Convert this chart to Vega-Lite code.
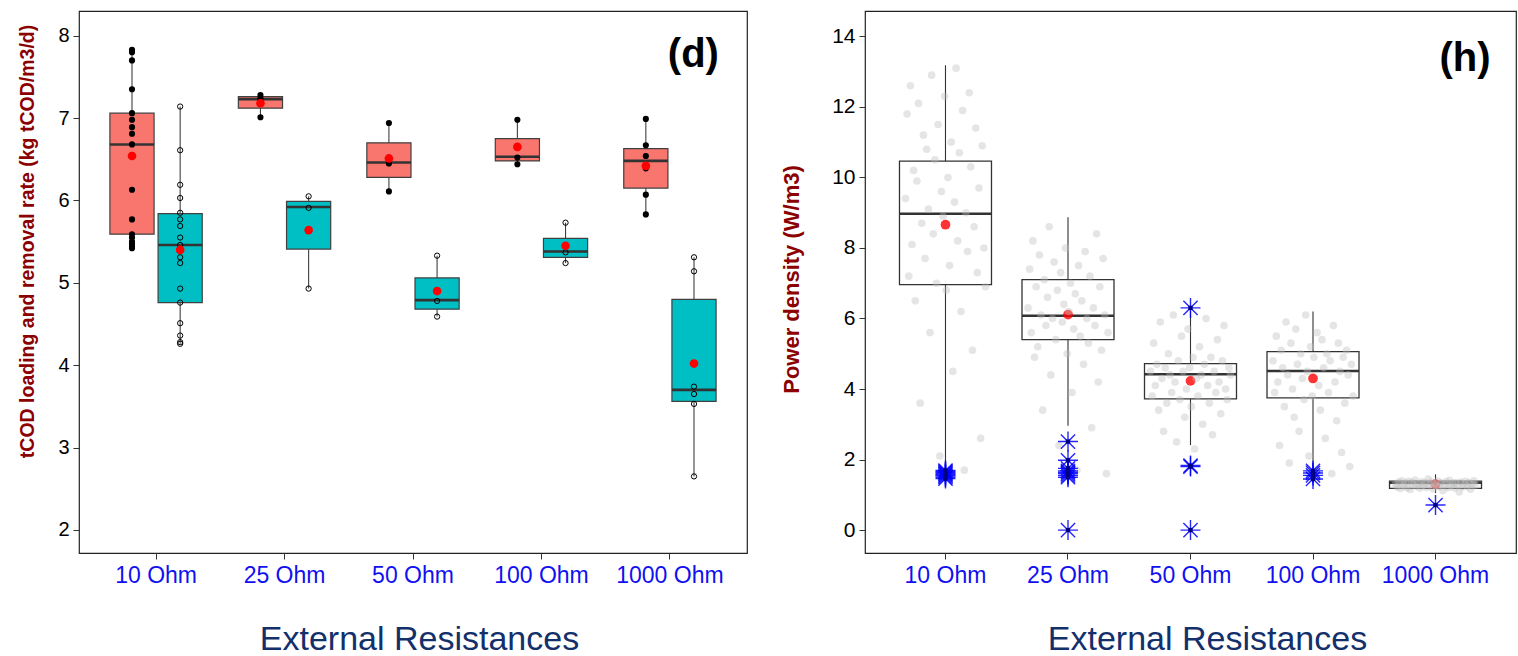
{
"$schema": "https://vega.github.io/schema/vega-lite/v6.json",
"background": "white",
"padding": {"left": 16, "top": 10, "right": 2, "bottom": 0},
"spacing": 31,
"config": {"font": "Liberation Sans", "view": {"stroke": "#222222", "strokeWidth": 1.2},
"axisY": {"grid": false, "domain": false, "format": "d", "labelColor": "black", "labelPadding": 4, "tickSize": 6, "tickColor": "#333333", "titleFontWeight": "bold", "titleColor": "#8B0000", "titleBaseline": "middle", "titleAlign": "center", "titleAngle": -90},
"axisX": {"labelAngle": 0, "labelColor": "#1010F0", "labelFontSize": 23, "labelPadding": 5, "tickSize": 6, "tickColor": "#333333", "domain": false, "grid": false, "titleFontSize": 34, "titleFontWeight": "normal", "titleColor": "#13306B", "titleY": 96, "titleBaseline": "alphabetic", "titleAlign": "center"}},
"datasets": {
"statsD": [
{"res":"10 Ohm","grp":"loading","lo":5.42,"q1":5.59,"med":6.68,"q3":7.06,"hi":7.83,"mean":6.54},
{"res":"10 Ohm","grp":"removal","lo":4.26,"q1":4.76,"med":5.46,"q3":5.84,"hi":7.14,"mean":5.40},
{"res":"25 Ohm","grp":"loading","lo":7.01,"q1":7.12,"med":7.23,"q3":7.26,"hi":7.28,"mean":7.18},
{"res":"25 Ohm","grp":"removal","lo":4.93,"q1":5.41,"med":5.92,"q3":5.99,"hi":6.05,"mean":5.64},
{"res":"50 Ohm","grp":"loading","lo":6.11,"q1":6.28,"med":6.46,"q3":6.70,"hi":6.94,"mean":6.51},
{"res":"50 Ohm","grp":"removal","lo":4.59,"q1":4.68,"med":4.79,"q3":5.06,"hi":5.33,"mean":4.90},
{"res":"100 Ohm","grp":"loading","lo":6.44,"q1":6.48,"med":6.53,"q3":6.75,"hi":6.98,"mean":6.65},
{"res":"100 Ohm","grp":"removal","lo":5.24,"q1":5.31,"med":5.38,"q3":5.54,"hi":5.73,"mean":5.45},
{"res":"1000 Ohm","grp":"loading","lo":5.83,"q1":6.15,"med":6.48,"q3":6.63,"hi":6.99,"mean":6.42},
{"res":"1000 Ohm","grp":"removal","lo":2.65,"q1":3.56,"med":3.70,"q3":4.80,"hi":5.31,"mean":4.02}
],
"ptsD": [
{"res":"10 Ohm","grp":"loading","v":7.83},{"res":"10 Ohm","grp":"loading","v":7.80},{"res":"10 Ohm","grp":"loading","v":7.70},{"res":"10 Ohm","grp":"loading","v":7.35},{"res":"10 Ohm","grp":"loading","v":7.06},{"res":"10 Ohm","grp":"loading","v":6.98},{"res":"10 Ohm","grp":"loading","v":6.89},{"res":"10 Ohm","grp":"loading","v":6.81},{"res":"10 Ohm","grp":"loading","v":6.68},{"res":"10 Ohm","grp":"loading","v":6.55},{"res":"10 Ohm","grp":"loading","v":6.13},{"res":"10 Ohm","grp":"loading","v":5.77},{"res":"10 Ohm","grp":"loading","v":5.59},{"res":"10 Ohm","grp":"loading","v":5.55},{"res":"10 Ohm","grp":"loading","v":5.50},{"res":"10 Ohm","grp":"loading","v":5.47},{"res":"10 Ohm","grp":"loading","v":5.44},{"res":"10 Ohm","grp":"loading","v":5.42},
{"res":"10 Ohm","grp":"removal","v":7.14},{"res":"10 Ohm","grp":"removal","v":6.61},{"res":"10 Ohm","grp":"removal","v":6.19},{"res":"10 Ohm","grp":"removal","v":6.03},{"res":"10 Ohm","grp":"removal","v":5.85},{"res":"10 Ohm","grp":"removal","v":5.77},{"res":"10 Ohm","grp":"removal","v":5.69},{"res":"10 Ohm","grp":"removal","v":5.55},{"res":"10 Ohm","grp":"removal","v":5.46},{"res":"10 Ohm","grp":"removal","v":5.31},{"res":"10 Ohm","grp":"removal","v":5.24},{"res":"10 Ohm","grp":"removal","v":4.93},{"res":"10 Ohm","grp":"removal","v":4.76},{"res":"10 Ohm","grp":"removal","v":4.51},{"res":"10 Ohm","grp":"removal","v":4.36},{"res":"10 Ohm","grp":"removal","v":4.28},{"res":"10 Ohm","grp":"removal","v":4.26},
{"res":"25 Ohm","grp":"loading","v":7.28},{"res":"25 Ohm","grp":"loading","v":7.24},{"res":"25 Ohm","grp":"loading","v":7.20},{"res":"25 Ohm","grp":"loading","v":7.01},
{"res":"25 Ohm","grp":"removal","v":6.05},{"res":"25 Ohm","grp":"removal","v":5.91},{"res":"25 Ohm","grp":"removal","v":4.93},
{"res":"50 Ohm","grp":"loading","v":6.94},{"res":"50 Ohm","grp":"loading","v":6.45},{"res":"50 Ohm","grp":"loading","v":6.11},
{"res":"50 Ohm","grp":"removal","v":5.33},{"res":"50 Ohm","grp":"removal","v":4.78},{"res":"50 Ohm","grp":"removal","v":4.59},
{"res":"100 Ohm","grp":"loading","v":6.98},{"res":"100 Ohm","grp":"loading","v":6.52},{"res":"100 Ohm","grp":"loading","v":6.44},
{"res":"100 Ohm","grp":"removal","v":5.73},{"res":"100 Ohm","grp":"removal","v":5.37},{"res":"100 Ohm","grp":"removal","v":5.24},
{"res":"1000 Ohm","grp":"loading","v":6.99},{"res":"1000 Ohm","grp":"loading","v":6.67},{"res":"1000 Ohm","grp":"loading","v":6.54},{"res":"1000 Ohm","grp":"loading","v":6.39},{"res":"1000 Ohm","grp":"loading","v":6.07},{"res":"1000 Ohm","grp":"loading","v":5.83},
{"res":"1000 Ohm","grp":"removal","v":5.31},{"res":"1000 Ohm","grp":"removal","v":5.14},{"res":"1000 Ohm","grp":"removal","v":3.74},{"res":"1000 Ohm","grp":"removal","v":3.65},{"res":"1000 Ohm","grp":"removal","v":3.53},{"res":"1000 Ohm","grp":"removal","v":2.65}
],
"statsH": [
{"res":"10 Ohm","lo":1.72,"q1":6.96,"med":8.97,"q3":10.46,"hi":13.18,"mean":8.66},
{"res":"25 Ohm","lo":2.96,"q1":5.40,"med":6.08,"q3":7.10,"hi":8.87,"mean":6.11},
{"res":"50 Ohm","lo":2.41,"q1":3.72,"med":4.42,"q3":4.72,"hi":6.22,"mean":4.23},
{"res":"100 Ohm","lo":1.80,"q1":3.75,"med":4.51,"q3":5.06,"hi":6.20,"mean":4.30},
{"res":"1000 Ohm","lo":1.05,"q1":1.18,"med":1.34,"q3":1.39,"hi":1.58,"mean":1.30}
],
"outH": [
{"res":"10 Ohm","v":1.69},{"res":"10 Ohm","v":1.66},{"res":"10 Ohm","v":1.63},{"res":"10 Ohm","v":1.60},{"res":"10 Ohm","v":1.57},{"res":"10 Ohm","v":1.54},{"res":"10 Ohm","v":1.50},{"res":"10 Ohm","v":1.46},
{"res":"25 Ohm","v":2.51},{"res":"25 Ohm","v":1.98},{"res":"25 Ohm","v":1.75},{"res":"25 Ohm","v":1.68},{"res":"25 Ohm","v":1.64},{"res":"25 Ohm","v":1.60},{"res":"25 Ohm","v":1.55},{"res":"25 Ohm","v":1.50},{"res":"25 Ohm","v":0.0},
{"res":"50 Ohm","v":6.30},{"res":"50 Ohm","v":1.83},{"res":"50 Ohm","v":1.80},{"res":"50 Ohm","v":0.0},
{"res":"100 Ohm","v":1.68},{"res":"100 Ohm","v":1.62},{"res":"100 Ohm","v":1.55},{"res":"100 Ohm","v":1.45},
{"res":"1000 Ohm","v":0.71}
],
"ptsH": [
{"res":"10 Ohm","k":1,"p":9.4},{"res":"10 Ohm","k":2,"p":11.8},{"res":"10 Ohm","k":3,"p":7.2},{"res":"10 Ohm","k":4,"p":12.6},{"res":"10 Ohm","k":5,"p":8.1},{"res":"10 Ohm","k":6,"p":10.2},{"res":"10 Ohm","k":7,"p":6.5},{"res":"10 Ohm","k":8,"p":9.9},{"res":"10 Ohm","k":9,"p":12.1},{"res":"10 Ohm","k":10,"p":3.6},
{"res":"10 Ohm","k":11,"p":8.7},{"res":"10 Ohm","k":12,"p":11.2},{"res":"10 Ohm","k":13,"p":7.7},{"res":"10 Ohm","k":14,"p":10.8},{"res":"10 Ohm","k":15,"p":9.1},{"res":"10 Ohm","k":16,"p":5.6},{"res":"10 Ohm","k":17,"p":12.9},{"res":"10 Ohm","k":18,"p":8.4},{"res":"10 Ohm","k":19,"p":10.5},{"res":"10 Ohm","k":20,"p":7.0},
{"res":"10 Ohm","k":21,"p":11.5},{"res":"10 Ohm","k":22,"p":2.1},{"res":"10 Ohm","k":23,"p":9.6},{"res":"10 Ohm","k":24,"p":8.9},{"res":"10 Ohm","k":25,"p":12.3},{"res":"10 Ohm","k":26,"p":6.8},{"res":"10 Ohm","k":27,"p":10.0},{"res":"10 Ohm","k":28,"p":7.5},{"res":"10 Ohm","k":29,"p":11.0},{"res":"10 Ohm","k":30,"p":4.5},
{"res":"10 Ohm","k":31,"p":9.3},{"res":"10 Ohm","k":32,"p":13.1},{"res":"10 Ohm","k":33,"p":8.2},{"res":"10 Ohm","k":34,"p":10.7},{"res":"10 Ohm","k":35,"p":6.2},{"res":"10 Ohm","k":36,"p":11.9},{"res":"10 Ohm","k":37,"p":1.7},{"res":"10 Ohm","k":38,"p":9.0},{"res":"10 Ohm","k":39,"p":7.9},{"res":"10 Ohm","k":40,"p":12.4},
{"res":"10 Ohm","k":41,"p":10.3},{"res":"10 Ohm","k":42,"p":5.1},{"res":"10 Ohm","k":43,"p":8.6},{"res":"10 Ohm","k":44,"p":11.4},{"res":"10 Ohm","k":45,"p":7.3},{"res":"10 Ohm","k":46,"p":9.7},{"res":"10 Ohm","k":47,"p":2.6},{"res":"10 Ohm","k":48,"p":10.9},{"res":"10 Ohm","k":49,"p":8.0},{"res":"10 Ohm","k":50,"p":6.9},
{"res":"25 Ohm","k":1,"p":6.3},{"res":"25 Ohm","k":2,"p":7.4},{"res":"25 Ohm","k":3,"p":5.6},{"res":"25 Ohm","k":4,"p":8.2},{"res":"25 Ohm","k":5,"p":4.9},{"res":"25 Ohm","k":6,"p":6.9},{"res":"25 Ohm","k":7,"p":5.2},{"res":"25 Ohm","k":8,"p":7.8},{"res":"25 Ohm","k":9,"p":6.1},{"res":"25 Ohm","k":10,"p":3.4},
{"res":"25 Ohm","k":11,"p":7.1},{"res":"25 Ohm","k":12,"p":5.8},{"res":"25 Ohm","k":13,"p":6.6},{"res":"25 Ohm","k":14,"p":8.6},{"res":"25 Ohm","k":15,"p":4.4},{"res":"25 Ohm","k":16,"p":6.0},{"res":"25 Ohm","k":17,"p":7.6},{"res":"25 Ohm","k":18,"p":5.4},{"res":"25 Ohm","k":19,"p":6.8},{"res":"25 Ohm","k":20,"p":2.4},
{"res":"25 Ohm","k":21,"p":7.3},{"res":"25 Ohm","k":22,"p":5.9},{"res":"25 Ohm","k":23,"p":6.4},{"res":"25 Ohm","k":24,"p":8.0},{"res":"25 Ohm","k":25,"p":5.0},{"res":"25 Ohm","k":26,"p":6.2},{"res":"25 Ohm","k":27,"p":7.0},{"res":"25 Ohm","k":28,"p":3.9},{"res":"25 Ohm","k":29,"p":5.7},{"res":"25 Ohm","k":30,"p":6.7},
{"res":"25 Ohm","k":31,"p":1.7},{"res":"25 Ohm","k":32,"p":7.5},{"res":"25 Ohm","k":33,"p":5.5},{"res":"25 Ohm","k":34,"p":6.5},{"res":"25 Ohm","k":35,"p":4.7},{"res":"25 Ohm","k":36,"p":7.9},{"res":"25 Ohm","k":37,"p":6.0},{"res":"25 Ohm","k":38,"p":5.3},{"res":"25 Ohm","k":39,"p":7.2},{"res":"25 Ohm","k":40,"p":2.9},
{"res":"25 Ohm","k":41,"p":6.3},{"res":"25 Ohm","k":42,"p":5.8},{"res":"25 Ohm","k":43,"p":8.4},{"res":"25 Ohm","k":44,"p":4.2},{"res":"25 Ohm","k":45,"p":6.9},{"res":"25 Ohm","k":46,"p":5.1},{"res":"25 Ohm","k":47,"p":7.7},{"res":"25 Ohm","k":48,"p":6.1},{"res":"25 Ohm","k":49,"p":1.6},{"res":"25 Ohm","k":50,"p":5.6},
{"res":"50 Ohm","k":1,"p":4.5},{"res":"50 Ohm","k":2,"p":3.8},{"res":"50 Ohm","k":3,"p":5.3},{"res":"50 Ohm","k":4,"p":4.1},{"res":"50 Ohm","k":5,"p":4.7},{"res":"50 Ohm","k":6,"p":3.4},{"res":"50 Ohm","k":7,"p":5.9},{"res":"50 Ohm","k":8,"p":4.3},{"res":"50 Ohm","k":9,"p":2.8},{"res":"50 Ohm","k":10,"p":4.6},
{"res":"50 Ohm","k":11,"p":3.6},{"res":"50 Ohm","k":12,"p":5.0},{"res":"50 Ohm","k":13,"p":4.4},{"res":"50 Ohm","k":14,"p":3.9},{"res":"50 Ohm","k":15,"p":6.1},{"res":"50 Ohm","k":16,"p":4.2},{"res":"50 Ohm","k":17,"p":2.5},{"res":"50 Ohm","k":18,"p":4.8},{"res":"50 Ohm","k":19,"p":3.7},{"res":"50 Ohm","k":20,"p":5.5},
{"res":"50 Ohm","k":21,"p":4.5},{"res":"50 Ohm","k":22,"p":3.2},{"res":"50 Ohm","k":23,"p":4.0},{"res":"50 Ohm","k":24,"p":5.7},{"res":"50 Ohm","k":25,"p":4.6},{"res":"50 Ohm","k":26,"p":3.5},{"res":"50 Ohm","k":27,"p":4.9},{"res":"50 Ohm","k":28,"p":2.3},{"res":"50 Ohm","k":29,"p":4.3},{"res":"50 Ohm","k":30,"p":3.8},
{"res":"50 Ohm","k":31,"p":5.2},{"res":"50 Ohm","k":32,"p":4.4},{"res":"50 Ohm","k":33,"p":3.0},{"res":"50 Ohm","k":34,"p":4.7},{"res":"50 Ohm","k":35,"p":6.0},{"res":"50 Ohm","k":36,"p":4.1},{"res":"50 Ohm","k":37,"p":3.6},{"res":"50 Ohm","k":38,"p":4.9},{"res":"50 Ohm","k":39,"p":2.7},{"res":"50 Ohm","k":40,"p":4.5},
{"res":"50 Ohm","k":41,"p":3.9},{"res":"50 Ohm","k":42,"p":5.4},{"res":"50 Ohm","k":43,"p":4.2},{"res":"50 Ohm","k":44,"p":3.3},{"res":"50 Ohm","k":45,"p":4.8},{"res":"50 Ohm","k":46,"p":5.8},{"res":"50 Ohm","k":47,"p":4.0},{"res":"50 Ohm","k":48,"p":3.7},{"res":"50 Ohm","k":49,"p":4.6},{"res":"50 Ohm","k":50,"p":4.4},
{"res":"100 Ohm","k":1,"p":4.8},{"res":"100 Ohm","k":2,"p":3.9},{"res":"100 Ohm","k":3,"p":5.5},{"res":"100 Ohm","k":4,"p":4.2},{"res":"100 Ohm","k":5,"p":2.4},{"res":"100 Ohm","k":6,"p":5.1},{"res":"100 Ohm","k":7,"p":4.6},{"res":"100 Ohm","k":8,"p":3.5},{"res":"100 Ohm","k":9,"p":5.9},{"res":"100 Ohm","k":10,"p":4.4},
{"res":"100 Ohm","k":11,"p":1.9},{"res":"100 Ohm","k":12,"p":5.3},{"res":"100 Ohm","k":13,"p":4.0},{"res":"100 Ohm","k":14,"p":3.2},{"res":"100 Ohm","k":15,"p":5.7},{"res":"100 Ohm","k":16,"p":4.7},{"res":"100 Ohm","k":17,"p":2.8},{"res":"100 Ohm","k":18,"p":5.0},{"res":"100 Ohm","k":19,"p":4.3},{"res":"100 Ohm","k":20,"p":3.7},
{"res":"100 Ohm","k":21,"p":6.1},{"res":"100 Ohm","k":22,"p":4.5},{"res":"100 Ohm","k":23,"p":2.1},{"res":"100 Ohm","k":24,"p":5.2},{"res":"100 Ohm","k":25,"p":3.8},{"res":"100 Ohm","k":26,"p":4.9},{"res":"100 Ohm","k":27,"p":1.7},{"res":"100 Ohm","k":28,"p":5.6},{"res":"100 Ohm","k":29,"p":4.1},{"res":"100 Ohm","k":30,"p":3.4},
{"res":"100 Ohm","k":31,"p":5.4},{"res":"100 Ohm","k":32,"p":4.6},{"res":"100 Ohm","k":33,"p":2.6},{"res":"100 Ohm","k":34,"p":5.0},{"res":"100 Ohm","k":35,"p":3.9},{"res":"100 Ohm","k":36,"p":4.8},{"res":"100 Ohm","k":37,"p":1.6},{"res":"100 Ohm","k":38,"p":5.8},{"res":"100 Ohm","k":39,"p":4.2},{"res":"100 Ohm","k":40,"p":3.1},
{"res":"100 Ohm","k":41,"p":5.3},{"res":"100 Ohm","k":42,"p":4.5},{"res":"100 Ohm","k":43,"p":2.2},{"res":"100 Ohm","k":44,"p":4.9},{"res":"100 Ohm","k":45,"p":3.6},{"res":"100 Ohm","k":46,"p":5.1},{"res":"100 Ohm","k":47,"p":4.4},{"res":"100 Ohm","k":48,"p":1.8},{"res":"100 Ohm","k":49,"p":4.7},{"res":"100 Ohm","k":50,"p":3.8},
{"res":"1000 Ohm","k":1,"p":1.30},{"res":"1000 Ohm","k":2,"p":1.22},{"res":"1000 Ohm","k":3,"p":1.36},{"res":"1000 Ohm","k":4,"p":1.18},{"res":"1000 Ohm","k":5,"p":1.40},{"res":"1000 Ohm","k":6,"p":1.26},{"res":"1000 Ohm","k":7,"p":1.33},{"res":"1000 Ohm","k":8,"p":1.20},{"res":"1000 Ohm","k":9,"p":1.38},{"res":"1000 Ohm","k":10,"p":1.15},
{"res":"1000 Ohm","k":11,"p":1.35},{"res":"1000 Ohm","k":12,"p":1.28},{"res":"1000 Ohm","k":13,"p":1.42},{"res":"1000 Ohm","k":14,"p":1.24},{"res":"1000 Ohm","k":15,"p":1.31},{"res":"1000 Ohm","k":16,"p":1.19},{"res":"1000 Ohm","k":17,"p":1.37},{"res":"1000 Ohm","k":18,"p":1.27},{"res":"1000 Ohm","k":19,"p":1.34},{"res":"1000 Ohm","k":20,"p":1.21},
{"res":"1000 Ohm","k":21,"p":1.45},{"res":"1000 Ohm","k":22,"p":1.29},{"res":"1000 Ohm","k":23,"p":1.36},{"res":"1000 Ohm","k":24,"p":1.17},{"res":"1000 Ohm","k":25,"p":1.32},{"res":"1000 Ohm","k":26,"p":1.25},{"res":"1000 Ohm","k":27,"p":1.39},{"res":"1000 Ohm","k":28,"p":1.23},{"res":"1000 Ohm","k":29,"p":1.34},{"res":"1000 Ohm","k":30,"p":1.12},
{"res":"1000 Ohm","k":31,"p":1.30},{"res":"1000 Ohm","k":32,"p":1.37},{"res":"1000 Ohm","k":33,"p":1.20},{"res":"1000 Ohm","k":34,"p":1.41},{"res":"1000 Ohm","k":35,"p":1.26},{"res":"1000 Ohm","k":36,"p":1.33},{"res":"1000 Ohm","k":37,"p":1.19},{"res":"1000 Ohm","k":38,"p":1.35},{"res":"1000 Ohm","k":39,"p":1.28},{"res":"1000 Ohm","k":40,"p":1.08},
{"res":"1000 Ohm","k":41,"p":1.36},{"res":"1000 Ohm","k":42,"p":1.22},{"res":"1000 Ohm","k":43,"p":1.31},{"res":"1000 Ohm","k":44,"p":1.38},{"res":"1000 Ohm","k":45,"p":1.24},{"res":"1000 Ohm","k":46,"p":1.34},{"res":"1000 Ohm","k":47,"p":1.16},{"res":"1000 Ohm","k":48,"p":1.29},{"res":"1000 Ohm","k":49,"p":1.40},{"res":"1000 Ohm","k":50,"p":1.27}
]
},
"hconcat": [
{
"width": 668, "height": 542,
"encoding": {
"x": {"field": "res", "type": "nominal", "sort": ["10 Ohm","25 Ohm","50 Ohm","100 Ohm","1000 Ohm"], "title": "External Resistances",
"scale": {"paddingInner": 0, "paddingOuter": 0.1},
"axis": {"titleX": 340}}
},
"layer": [
{"data": {"name": "statsD"}, "mark": {"type": "rule", "color": "#404040", "strokeWidth": 1.1},
 "encoding": {"xOffset": {"field": "grp", "type": "nominal", "scale": {"paddingInner": 0.083, "paddingOuter": 0.375}},
 "y": {"field": "lo", "type": "quantitative", "scale": {"domain": [1.72, 8.3], "nice": false, "zero": false}, "title": "tCOD loading and removal rate (kg tCOD/m3/d)",
  "axis": {"values": [2,3,4,5,6,7,8], "labelFontSize": 20, "titleFontSize": 19.5, "titleX": -52, "titleY": 230}},
 "y2": {"field": "hi"}}},
{"data": {"name": "statsD"}, "mark": {"type": "bar", "stroke": "#404040", "strokeWidth": 1.2},
 "encoding": {"xOffset": {"field": "grp", "type": "nominal"},
 "y": {"field": "q1", "type": "quantitative", "title": "tCOD loading and removal rate (kg tCOD/m3/d)"}, "y2": {"field": "q3"},
 "color": {"field": "grp", "type": "nominal", "scale": {"domain": ["loading", "removal"], "range": ["#F8766D", "#00BFC4"]}, "legend": null}}},
{"data": {"name": "statsD"}, "mark": {"type": "bar", "fillOpacity": 0, "stroke": "#333333", "strokeWidth": 2.6},
 "encoding": {"xOffset": {"field": "grp", "type": "nominal"},
 "y": {"field": "med", "type": "quantitative", "title": "tCOD loading and removal rate (kg tCOD/m3/d)"}, "y2": {"field": "med"}}},
{"data": {"name": "ptsD"}, "transform": [{"filter": "datum.grp === 'loading'"}],
 "mark": {"type": "point", "filled": true, "color": "black", "opacity": 1, "size": 38},
 "encoding": {"xOffset": {"field": "grp", "type": "nominal"}, "y": {"field": "v", "type": "quantitative", "title": "tCOD loading and removal rate (kg tCOD/m3/d)"}}},
{"data": {"name": "ptsD"}, "transform": [{"filter": "datum.grp === 'removal'"}],
 "mark": {"type": "point", "filled": false, "color": "black", "opacity": 1, "size": 28, "strokeWidth": 1},
 "encoding": {"xOffset": {"field": "grp", "type": "nominal"}, "y": {"field": "v", "type": "quantitative", "title": "tCOD loading and removal rate (kg tCOD/m3/d)"}}},
{"data": {"name": "statsD"}, "mark": {"type": "point", "filled": true, "color": "#FF0000", "opacity": 1, "size": 75},
 "encoding": {"xOffset": {"field": "grp", "type": "nominal"}, "y": {"field": "mean", "type": "quantitative", "title": "tCOD loading and removal rate (kg tCOD/m3/d)"}}},
{"data": {"values": [{"label": "(d)"}]}, "mark": {"type": "text", "align": "right", "baseline": "alphabetic", "fontSize": 40, "fontWeight": "bold", "color": "black", "dx": 49},
 "encoding": {"x": {"datum": "1000 Ohm"}, "y": {"datum": 7.62, "type": "quantitative", "title": "tCOD loading and removal rate (kg tCOD/m3/d)"}, "text": {"field": "label"}}}
]
},
{
"width": 651, "height": 542,
"encoding": {
"x": {"field": "res", "type": "nominal", "sort": ["10 Ohm","25 Ohm","50 Ohm","100 Ohm","1000 Ohm"], "title": "External Resistances",
"scale": {"paddingInner": 0, "paddingOuter": 0.157},
"axis": {"titleX": 342}}
},
"layer": [
{"data": {"name": "statsH"}, "mark": {"type": "rule", "color": "#333333", "strokeWidth": 1.1},
 "encoding": {"y": {"field": "lo", "type": "quantitative", "scale": {"domain": [-0.65, 14.72], "nice": false, "zero": false}, "title": "Power density (W/m3)",
  "axis": {"values": [0,2,4,6,8,10,12,14], "labelFontSize": 21, "titleFontSize": 22, "titleX": -74, "titleY": 268}},
 "y2": {"field": "hi"}}},
{"data": {"name": "statsH"}, "mark": {"type": "bar", "width": 92, "fill": "white", "stroke": "#333333", "strokeWidth": 1.3},
 "encoding": {"y": {"field": "q1", "type": "quantitative", "title": "Power density (W/m3)"}, "y2": {"field": "q3"}}},
{"data": {"name": "statsH"}, "mark": {"type": "bar", "width": 92, "fillOpacity": 0, "stroke": "#333333", "strokeWidth": 2.4},
 "encoding": {"y": {"field": "med", "type": "quantitative", "title": "Power density (W/m3)"}, "y2": {"field": "med"}}},
{"data": {"name": "statsH"}, "mark": {"type": "point", "filled": true, "color": "#FF0000", "opacity": 0.8, "size": 95},
 "encoding": {"y": {"field": "mean", "type": "quantitative", "title": "Power density (W/m3)"}}},
{"data": {"name": "ptsH"}, "mark": {"type": "point", "filled": true, "color": "#BDBDBD", "opacity": 0.4, "size": 58},
 "encoding": {"xOffset": {"field": "k", "type": "quantitative", "scale": {"domain": [-12, 63]}},
 "y": {"field": "p", "type": "quantitative", "title": "Power density (W/m3)"}}},
{"data": {"name": "outH"}, "mark": {"type": "point", "filled": false, "shape": "M-1,0L1,0M0,-1L0,1M-0.71,-0.71L0.71,0.71M-0.71,0.71L0.71,-0.71", "color": "#0000FF", "opacity": 0.85, "strokeWidth": 1.4, "size": 400},
 "encoding": {"y": {"field": "v", "type": "quantitative", "title": "Power density (W/m3)"}}},
{"data": {"name": "outH"}, "mark": {"type": "point", "filled": true, "shape": "square", "color": "#000080", "opacity": 1, "size": 18},
 "encoding": {"y": {"field": "v", "type": "quantitative", "title": "Power density (W/m3)"}}},
{"data": {"values": [{"label": "(h)"}]}, "mark": {"type": "text", "align": "right", "baseline": "alphabetic", "fontSize": 40, "fontWeight": "bold", "color": "black", "dx": 55},
 "encoding": {"x": {"datum": "1000 Ohm"}, "y": {"datum": 13.02, "type": "quantitative", "title": "Power density (W/m3)"}, "text": {"field": "label"}}}
]
}
]
}
